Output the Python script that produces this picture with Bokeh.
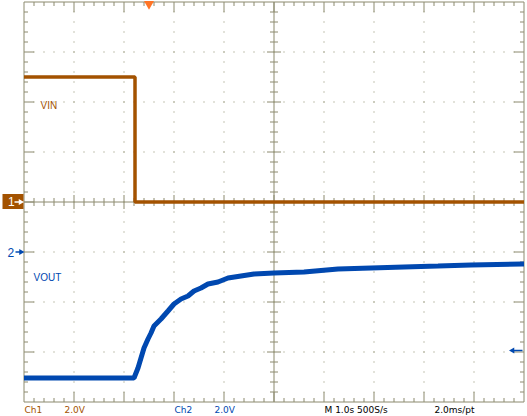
import numpy as np
from bokeh.plotting import figure
from bokeh.models import Range1d, Label
from bokeh.embed import file_html
from bokeh.resources import INLINE

# ---------------- data ----------------
sec_per_div = 1.0
volts_per_div = 2.0
ch2_offset_div = -1.0

vin_t = [-2.5, -0.28, -0.28, 7.5]
vin_v = [5.0, 5.0, 0.0, 0.0]

vout_t = [-2.5, -0.30, -0.22, -0.16, -0.10, -0.02, 0.04, 0.10, 0.24, 0.38, 0.50,
          0.64, 0.78, 0.90, 1.04, 1.18, 1.38, 1.58, 1.84, 2.10, 2.50, 3.10, 3.78,
          4.44, 5.10, 5.78, 6.44, 7.46, 7.5]
vout_v = [-5.04, -5.04, -4.64, -4.24, -3.84, -3.48, -3.24, -2.96, -2.68, -2.36, -2.08,
          -1.88, -1.76, -1.56, -1.44, -1.28, -1.20, -1.04, -0.96, -0.88, -0.84, -0.80, -0.68,
          -0.64, -0.60, -0.56, -0.52, -0.48, -0.48]

ch1_labels = ["Ch1", "2.0V"]
ch2_labels = ["Ch2", "2.0V"]
time_labels = ["M 1.0s 500S/s", "2.0ms/pt"]

# ---------------- styling ----------------
GRID = "#8C8A6E"
BROWN = "#A35200"
BLUE = "#0048B0"
ORANGE = "#FF7426"
W, H = 527, 416
PX = 50.0  # px per division


def tx(x):  # page x -> time (s)
    return -5 * sec_per_div / 2 + (x - 23.5) / PX * sec_per_div


def vy(y):  # page y -> ch1 volts
    return 4 * volts_per_div - (y - 1.5) / PX * volts_per_div


dt = sec_per_div / PX   # seconds per px
dv = volts_per_div / PX  # volts per px

p = figure(width=W, height=H, output_backend="svg", toolbar_location=None,
           x_range=Range1d(tx(0), tx(W)), y_range=Range1d(vy(H), vy(0)),
           x_axis_type=None, y_axis_type=None, min_border=0,
           outline_line_color=None, background_fill_color="white",
           border_fill_color="white")
p.grid.visible = False

T0 = -5 * sec_per_div / 2
T1 = T0 + 10 * sec_per_div
V0, V1 = -4 * volts_per_div, 4 * volts_per_div
TC = (T0 + T1) / 2

# border + centre lines
x0s = [T0, T0, T0, T1, T0, TC]
x1s = [T1, T1, T0, T1, T1, TC]
y0s = [V1, V0, V0, V0, 0, V0]
y1s = [V1, V0, V1, V1, 0, V1]

kx = np.arange(1, 50)
tpos = T0 + kx * sec_per_div / 5
maj_x = (kx % 5 == 0)
for t, m in zip(tpos, maj_x):
    L = (10 if m else 4) * dv
    C = (7 if m else 4) * dv
    x0s += [t, t, t]
    x1s += [t, t, t]
    y0s += [V1, V0, -C]
    y1s += [V1 - L, V0 + L, C]
ky = np.arange(1, 40)
vpos = V0 + ky * volts_per_div / 5
maj_y = (ky % 5 == 0)
for v, m in zip(vpos, maj_y):
    L = (10 if m else 4) * dt
    C = (7 if m else 4) * dt
    x0s += [T0, T1, TC - C]
    x1s += [T0 + L, T1 - L, TC + C]
    y0s += [v, v, v]
    y1s += [v, v, v]
p.segment(x0s, y0s, x1s, y1s, line_color=GRID, line_width=1)

# dotted interior grid
dx, dy = [], []
hlines = [V0 + i * volts_per_div for i in range(1, 8) if i != 4]
vlines = [T0 + i * sec_per_div for i in range(1, 10) if i != 5]
for v in hlines:
    for t in tpos:
        dx.append(t); dy.append(v)
for t in vlines:
    for v in vpos:
        dx.append(t); dy.append(v)
p.rect(dx, dy, width=dt, height=dv, fill_color=GRID, line_color=None)

# traces
p.line(vin_t, vin_v, line_color=BROWN, line_width=3.5)
vout_disp = [ch2_offset_div * volts_per_div + v for v in vout_v]
p.line(vout_t, vout_disp, line_color=BLUE, line_width=5)

FONT = "Liberation Sans"
p.add_layout(Label(x=tx(40), y=vy(110.5), text="VIN", text_color=BROWN,
                   text_font=FONT, text_font_size="10px"))
p.add_layout(Label(x=tx(33), y=vy(282.5), text="VOUT", text_color=BLUE,
                   text_font=FONT, text_font_size="10px"))

# Ch1 marker box
p.rect([tx(12.5)], [vy(201.5) + 0.5 * dv], width=21 * dt, height=15 * dv,
       fill_color=BROWN, line_color=None)
p.add_layout(Label(x=tx(7.5), y=vy(205.5), text="1", text_color="white",
                   text_font=FONT, text_font_size="12px"))
p.segment([tx(14)], [0], [tx(19)], [0], line_color="white", line_width=1.5)
p.scatter([tx(20)], [0], marker="triangle", angle=-np.pi / 2, size=6,
          fill_color="white", line_color=None)

# Ch2 marker
y2 = ch2_offset_div * volts_per_div
p.add_layout(Label(x=tx(7), y=vy(256.5), text="2", text_color=BLUE,
                   text_font=FONT, text_font_size="12px"))
p.segment([tx(15)], [y2], [tx(20)], [y2], line_color=BLUE, line_width=1.5)
p.scatter([tx(20.5)], [y2], marker="triangle", angle=-np.pi / 2, size=6,
          fill_color=BLUE, line_color=None)

# trigger level arrow (right)
ytrig = vy(350)
p.segment([tx(513)], [ytrig], [tx(522)], [ytrig], line_color=BLUE, line_width=1.5)
p.scatter([tx(512)], [ytrig], marker="triangle", angle=np.pi / 2, size=6,
          fill_color=BLUE, line_color=None)

# trigger position (top)
p.scatter([0.0], [vy(3.5)], marker="inverted_triangle", size=10,
          fill_color=ORANGE, line_color=None)

# bottom status line
BF = "DejaVu Sans"
yb = vy(414.5)
for txt, x, c in [(ch1_labels[0], 24, BROWN), (ch1_labels[1], 64, BROWN),
                  (ch2_labels[0], 174, BLUE), (ch2_labels[1], 214, BLUE),
                  (time_labels[0], 324, "black"), (time_labels[1], 434, "black")]:
    p.add_layout(Label(x=tx(x), y=yb, text=txt, text_color=c,
                       text_font=BF, text_font_size="9px"))

open("out.html", "w").write(file_html(p, INLINE))
